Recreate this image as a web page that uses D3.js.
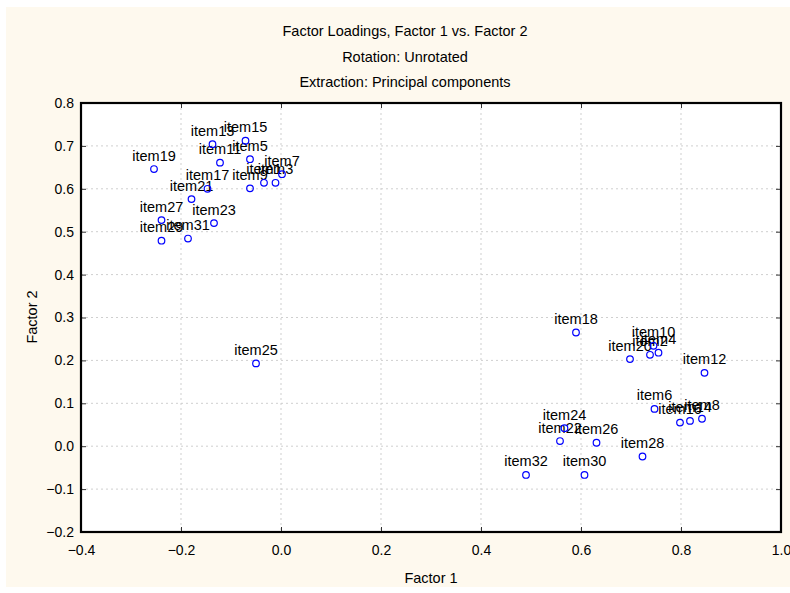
<!DOCTYPE html>
<html><head><meta charset="utf-8">
<script src="https://cdn.jsdelivr.net/npm/d3@7"></script>
<style>body{margin:0;background:#fff;} text{font-family:"Liberation Sans",Arial,sans-serif;}</style>
</head><body>
<svg id="chart" width="790" height="593"></svg>
<script>
const titles = ["Factor Loadings, Factor 1 vs. Factor 2", "Rotation: Unrotated", "Extraction: Principal components"];
const xLabel = "Factor 1";
const yLabel = "Factor 2";
const items = ["item19","item13","item15","item11","item5","item7","item3","item1","item9","item17","item21","item23","item27","item29","item31","item25",
  "item18","item20","item2","item4","item10","item12","item6","item16","item14","item8","item24","item22","item26","item28","item32","item30"];
const factor1 = [-0.254,-0.137,-0.071,-0.122,-0.062,0.002,-0.011,-0.034,-0.062,-0.147,-0.179,-0.134,-0.239,-0.239,-0.186,-0.050,
  0.590,0.698,0.738,0.755,0.745,0.847,0.747,0.798,0.818,0.842,0.567,0.558,0.631,0.723,0.490,0.607];
const factor2 = [0.646,0.704,0.712,0.661,0.669,0.634,0.614,0.614,0.601,0.600,0.576,0.520,0.527,0.479,0.484,0.193,
  0.265,0.203,0.213,0.218,0.234,0.171,0.087,0.055,0.059,0.064,0.042,0.012,0.008,-0.024,-0.067,-0.067];
const xTicks = [-0.4,-0.2,0.0,0.2,0.4,0.6,0.8,1.0];
const yTicks = [-0.2,-0.1,0.0,0.1,0.2,0.3,0.4,0.5,0.6,0.7,0.8];

const svg = d3.select("#chart");
const L = 81, R = 781, T = 103, B = 532;
const x = d3.scaleLinear().domain([-0.4, 1.0]).range([L, R]);
const y = d3.scaleLinear().domain([-0.2, 0.8]).range([B, T]);

svg.append("rect").attr("x",6).attr("y",7).attr("width",790).attr("height",580).attr("fill","#FEF9EE");
svg.append("rect").attr("x",L).attr("y",T).attr("width",R-L).attr("height",B-T).attr("fill","#fff");

// grid
const g = svg.append("g");
g.selectAll("line.gx").data(xTicks.slice(1,-1)).join("line")
  .attr("x1",d=>x(d)).attr("x2",d=>x(d)).attr("y1",T).attr("y2",B)
  .attr("stroke","#cfcfcf").attr("stroke-dasharray","2,3");
g.selectAll("line.gy").data(yTicks.slice(1,-1)).join("line")
  .attr("y1",d=>y(d)).attr("y2",d=>y(d)).attr("x1",L).attr("x2",R)
  .attr("stroke","#cfcfcf").attr("stroke-dasharray","2,3");

// axes
const fmt = d3.format(".1f");
svg.append("g").attr("transform",`translate(0,${B})`)
  .call(d3.axisBottom(x).tickValues(xTicks).tickFormat(fmt).tickSize(-5).tickPadding(13));
svg.append("g").attr("transform",`translate(${L},0)`)
  .call(d3.axisLeft(y).tickValues(yTicks).tickFormat(fmt).tickSize(-5).tickPadding(7));
svg.append("g").attr("transform",`translate(0,${T})`)
  .call(d3.axisTop(x).tickValues(xTicks).tickFormat("").tickSize(-5));
svg.append("g").attr("transform",`translate(${R},0)`)
  .call(d3.axisRight(y).tickValues(yTicks).tickFormat("").tickSize(-5));
svg.selectAll(".domain").remove();
svg.selectAll(".tick line").attr("stroke","#333");
svg.selectAll(".tick text").attr("font-size",14).attr("fill","#000").attr("font-family","Liberation Sans, Arial, sans-serif");

svg.append("rect").attr("x",L).attr("y",T).attr("width",R-L).attr("height",B-T)
  .attr("fill","none").attr("stroke","#000").attr("stroke-width",2.2);

// titles
svg.selectAll("text.title").data(titles).join("text")
  .attr("x",405).attr("y",(d,i)=>36+i*25.5).attr("text-anchor","middle")
  .attr("font-size",14.5).text(d=>d);
svg.append("text").attr("x",431).attr("y",583).attr("text-anchor","middle").attr("font-size",14.5).text(xLabel);
svg.append("text").attr("transform","translate(37,317) rotate(-90)").attr("text-anchor","middle").attr("font-size",14.5).text(yLabel);

// points
const data = items.map((n,i)=>({n, a:factor1[i], b:factor2[i]}));
const pg = svg.append("g");
pg.selectAll("text").data(data).join("text")
  .attr("x",d=>x(d.a)).attr("y",d=>y(d.b)-8.5).attr("text-anchor","middle")
  .attr("font-size",14.5).attr("fill","#000").text(d=>d.n);
pg.selectAll("circle").data(data).join("circle")
  .attr("cx",d=>x(d.a)).attr("cy",d=>y(d.b)).attr("r",3.3)
  .attr("fill","none").attr("stroke","#0000ff").attr("stroke-width",1.2);
</script>
</body></html>
